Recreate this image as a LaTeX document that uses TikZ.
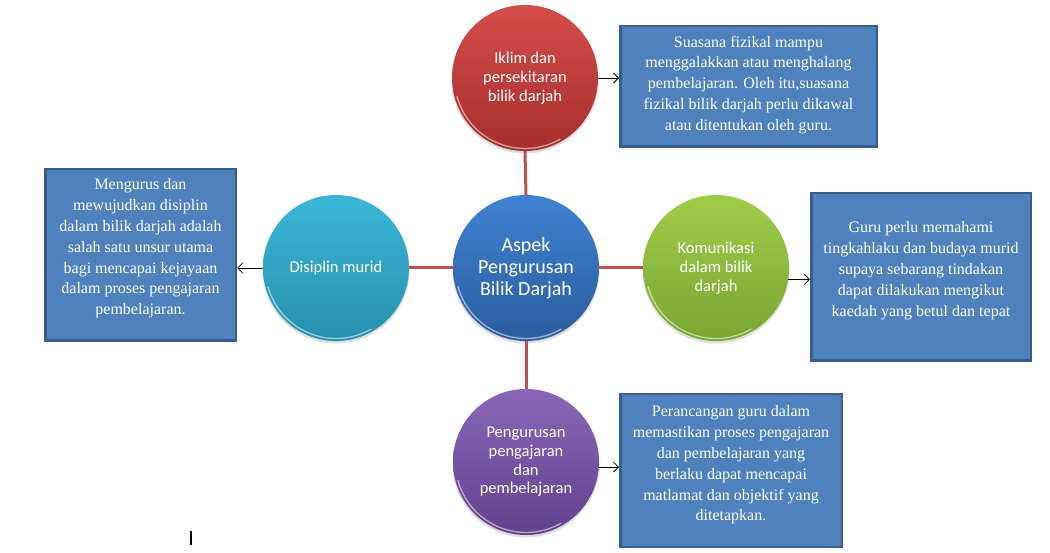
\documentclass[tikz,border=0pt]{standalone}
\usepackage{fontspec}
\setmainfont{Liberation Serif}
\newfontfamily\calib{Carlito}
\usetikzlibrary{arrows.meta}
\definecolor{boxblue}{HTML}{4F81BD}
\definecolor{boxedge}{HTML}{385D8A}
\definecolor{linkred}{HTML}{C0504D}
\definecolor{redtop}{HTML}{D44D4A}
\definecolor{redbot}{HTML}{A62E2D}
\definecolor{bluetop}{HTML}{3F82D2}
\definecolor{bluebot}{HTML}{2B5C9E}
\definecolor{cyantop}{HTML}{3CB6D6}
\definecolor{cyanbot}{HTML}{2790AD}
\definecolor{greentop}{HTML}{9FCD4A}
\definecolor{greenbot}{HTML}{78A632}
\definecolor{purptop}{HTML}{8B66B8}
\definecolor{purpbot}{HTML}{62418C}
\tikzset{
  ball/.style={circle, minimum size=146pt, inner sep=0pt, text=white, align=center,
    font=\calib\fontsize{16.5}{18.7}\selectfont},
  bigball/.style={ball, font=\calib\fontsize{20}{22}\selectfont},
  ballshadow/.style={fill=black, opacity=0.13},
  rim/.style={white, opacity=0.55, line width=1.3pt},
  infobox/.style={rectangle, fill=boxblue, draw=boxedge, line width=2.5pt, inner sep=0pt,
    text=white, font=\fontsize{16}{20.8}\selectfont},
  link/.style={draw=linkred, line width=3pt},
  pointer/.style={draw=black, line width=0.8pt, -{Straight Barb[length=5pt,width=10pt]}},
}
\newcommand{\boxtext}[4]{\parbox[c][#2pt][t]{#1pt}{\centering\vspace*{#3pt}#4\par}}
\begin{document}
\begin{tikzpicture}[x=1pt,y=1pt]
\useasboundingbox (0,0) rectangle (1050,552);
% shadows
\foreach \p in {(526,282),(525,472),(526,88),(336,282),(716,282)}
  \fill[ballshadow] \p circle (73.5);
% circles
\node[bigball, top color=bluetop, bottom color=bluebot] (C) at (526,284) {Aspek\\Pengurusan\\Bilik Darjah};
\node[ball, top color=redtop, bottom color=redbot] (T) at (525,474) {Iklim dan\\persekitaran\\bilik darjah};
\node[ball, top color=purptop, bottom color=purpbot] (B) at (526,90) {Pengurusan\\pengajaran\\dan\\pembelajaran};
\node[ball, top color=cyantop, bottom color=cyanbot] (L) at (336,284) {Disiplin murid};
\node[ball, top color=greentop, bottom color=greenbot] (R) at (716,284) {Komunikasi\\dalam bilik\\darjah};
% rims
\foreach \n in {C,T,B,L,R}
  \draw[rim] (\n) ++(195:70.5) arc[start angle=195, end angle=300, radius=70.5];
% connectors
\draw[link] (C.north) -- (T.south);
\draw[link] (C.south) -- (B.north);
\draw[link] (C.west) -- (L.east);
\draw[link] (C.east) -- (R.west);
% boxes
\node[infobox] (TR) at (748.5,465.5) {\boxtext{256.5}{120.5}{9.5}{Suasana fizikal mampu\\menggalakkan atau menghalang\\pembelajaran. Oleh itu,suasana\\fizikal bilik darjah perlu dikawal\\atau ditentukan oleh guru.}};
\node[infobox] (LB) at (140.5,297) {\boxtext{190.5}{171.5}{9.5}{Mengurus dan\\mewujudkan disiplin\\dalam bilik darjah adalah\\salah satu unsur utama\\bagi mencapai kejayaan\\dalam proses pengajaran\\pembelajaran.}};
\node[infobox] (RB) at (921,275) {\boxtext{219.5}{167.5}{28.5}{Guru perlu memahami\\tingkahlaku dan budaya murid\\supaya sebarang tindakan\\dapat dilakukan mengikut\\kaedah yang betul dan tepat}};
\node[infobox] (BB) at (731,81.5) {\boxtext{221.5}{152.5}{11.5}{Perancangan guru dalam\\memastikan proses pengajaran\\dan pembelajaran yang\\berlaku dapat mencapai\\matlamat dan objektif yang\\ditetapkan.}};
% pointers
\draw[pointer] (T.east) -- (T.east -| TR.west);
\draw[pointer] (L.west) -- (L.west -| LB.east);
\draw[pointer] (R.-9) -- (R.-9 -| RB.west);
\draw[pointer] (B.-4) -- (B.-4 -| BB.west);
% text cursor mark
\draw[black, line width=1.2pt] (191,21) -- (191,7);
\end{tikzpicture}
\end{document}
